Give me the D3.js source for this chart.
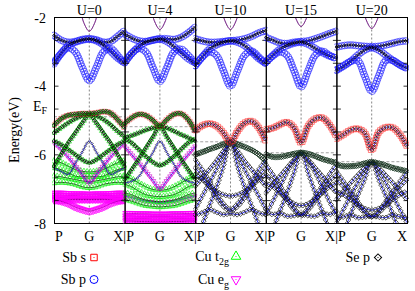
<!DOCTYPE html>
<html>
<head>
<meta charset="utf-8">
<script src="https://cdn.jsdelivr.net/npm/d3@7"></script>
<style>
  body { margin: 0; background: #fff; }
  svg { display: block; }
  text { font-family: 'Liberation Serif', 'Times New Roman', serif; fill: #000; }
</style>
</head>
<body>
<svg id="chart" width="415" height="291"></svg>
<script>
const width = 415, height = 291;
const plotLeft = 54, plotRight = 407, plotTop = 17.5, plotBottom = 223.5;

const panels = ['U=0', 'U=4', 'U=10', 'U=15', 'U=20'];
const fermi = [-4.89, -5.18, -5.62, -5.94, -6.20];
const kPoints = [0, 0.1, 0.2, 0.3, 0.4, 0.5, 0.6, 0.7, 0.8, 0.9, 1];
const yTicks = ['-2', '-4', '-6', '-8'];

// small conduction parabola near G (top of the frame)
const condK = [0.36, 0.42, 0.5, 0.58, 0.64];
const condU0 = [-1.62, -2.14, -2.40, -2.14, -1.62];
const condU4 = [-1.57, -2.09, -2.35, -2.09, -1.57];
const condU10 = [-1.57, -2.09, -2.35, -2.09, -1.57];
const condU15 = [-1.48, -2.00, -2.26, -2.00, -1.48];
const condU20 = [-1.54, -2.06, -2.32, -2.06, -1.54];

// bands: [character, energies at kPoints]
const bandsU0 = [
  ['sbpSe', [-2.52, -2.66, -2.72, -2.70, -2.64, -2.62, -2.65, -2.72, -2.70, -2.55, -2.38]],
  ['sbpSe', [-3.35, -3.05, -2.82, -2.72, -2.66, -2.63, -2.68, -2.80, -2.98, -3.18, -3.32]],
  ['sbp', [-3.30, -3.05, -2.88, -3.00, -3.45, -3.84, -3.45, -3.00, -2.90, -3.10, -3.35]],
  ['eg', [-7.12, -7.12, -7.13, -7.14, -7.14, -7.15, -7.14, -7.14, -7.13, -7.12, -7.12]],
  ['eg', [-7.18, -7.18, -7.19, -7.20, -7.21, -7.21, -7.21, -7.20, -7.19, -7.18, -7.18]],
  ['eg', [-7.25, -7.25, -7.26, -7.27, -7.28, -7.28, -7.28, -7.27, -7.26, -7.25, -7.25]],
  ['eg', [-7.32, -7.32, -7.31, -7.30, -7.30, -7.30, -7.30, -7.30, -7.31, -7.32, -7.32]],
  ['eg', [-7.30, -7.35, -7.42, -7.52, -7.59, -7.64, -7.59, -7.52, -7.42, -7.35, -7.30]],
  ['t2g', [-6.18, -6.23, -6.33, -6.43, -6.48, -6.50, -6.48, -6.43, -6.33, -6.23, -6.18]],
  ['t2g', [-6.38, -6.43, -6.52, -6.62, -6.64, -6.62, -6.64, -6.62, -6.52, -6.43, -6.38]],
  ['t2g', [-6.62, -6.64, -6.68, -6.72, -6.76, -6.78, -6.76, -6.72, -6.68, -6.64, -6.62]],
  ['t2g', [-6.82, -6.80, -6.82, -6.86, -6.93, -6.96, -6.93, -6.86, -6.82, -6.80, -6.82]],
  ['purple', [-5.65, -5.84, -6.06, -6.31, -6.57, -6.82, -6.57, -6.31, -6.06, -5.84, -5.65]],
  ['lam', [-6.38, -6.48, -6.57, -6.25, -5.92, -5.60, -5.92, -6.25, -6.57, -6.48, -6.38]],
  ['cuse', [-5.60, -5.70, -5.84, -5.99, -6.14, -6.23, -6.14, -5.99, -5.84, -5.70, -5.60]],
  ['cuse', [-6.33, -5.99, -5.65, -5.36, -5.07, -4.84, -5.07, -5.36, -5.65, -5.99, -6.33]],
  ['cuse', [-5.36, -5.21, -5.07, -4.95, -4.87, -4.82, -4.87, -4.97, -5.12, -5.31, -5.48]],
  ['topCu', [-5.14, -4.95, -4.85, -4.82, -4.80, -4.80, -4.78, -4.74, -4.78, -4.97, -5.21]]
];

const bandsU4 = [
  ['sbpSe', [-2.48, -2.60, -2.68, -2.70, -2.66, -2.62, -2.62, -2.64, -2.58, -2.45, -2.28]],
  ['sbpSe', [-3.32, -3.05, -2.85, -2.72, -2.66, -2.63, -2.70, -2.85, -3.02, -3.20, -3.32]],
  ['sbp', [-3.30, -3.05, -2.90, -3.00, -3.45, -3.86, -3.45, -3.00, -2.92, -3.10, -3.32]],
  ['eg', [-7.71, -7.71, -7.72, -7.72, -7.73, -7.73, -7.73, -7.72, -7.72, -7.71, -7.71]],
  ['eg', [-7.79, -7.79, -7.80, -7.80, -7.81, -7.81, -7.81, -7.80, -7.80, -7.79, -7.79]],
  ['eg', [-7.86, -7.86, -7.87, -7.87, -7.88, -7.88, -7.88, -7.87, -7.87, -7.86, -7.86]],
  ['eg', [-7.93, -7.93, -7.94, -7.94, -7.95, -7.95, -7.95, -7.94, -7.94, -7.93, -7.93]],
  ['purple', [-7.20, -7.25, -7.30, -7.35, -7.38, -7.40, -7.38, -7.35, -7.30, -7.25, -7.20]],
  ['t2g', [-6.62, -6.70, -6.82, -6.93, -7.01, -7.03, -7.01, -6.93, -6.82, -6.70, -6.62]],
  ['t2g', [-6.86, -6.93, -7.06, -7.16, -7.20, -7.22, -7.20, -7.16, -7.06, -6.93, -6.86]],
  ['t2g', [-7.11, -7.16, -7.25, -7.32, -7.35, -7.37, -7.35, -7.32, -7.25, -7.16, -7.11]],
  ['t2g', [-7.30, -7.35, -7.42, -7.48, -7.50, -7.52, -7.50, -7.48, -7.42, -7.35, -7.30]],
  ['purple', [-5.75, -5.99, -6.23, -6.48, -6.74, -6.99, -6.74, -6.48, -6.23, -5.99, -5.75]],
  ['lam', [-6.82, -6.77, -6.64, -6.28, -5.94, -5.60, -5.94, -6.28, -6.64, -6.77, -6.82]],
  ['cuse', [-5.53, -5.65, -5.84, -6.04, -6.21, -6.31, -6.21, -6.04, -5.84, -5.65, -5.53]],
  ['cuse', [-6.72, -6.43, -6.12, -5.80, -5.48, -5.18, -5.48, -5.80, -6.12, -6.43, -6.72]],
  ['cuse', [-5.50, -5.44, -5.36, -5.28, -5.22, -5.18, -5.22, -5.31, -5.41, -5.50, -5.60]],
  ['topCu', [-5.09, -4.92, -4.82, -4.85, -4.99, -5.16, -4.97, -4.82, -4.80, -4.97, -5.31]]
];

const bandsU10 = [
  ['sbpSe', [-2.62, -2.68, -2.72, -2.72, -2.70, -2.68, -2.66, -2.62, -2.55, -2.45, -2.38]],
  ['sbpSe', [-3.40, -3.15, -2.92, -2.80, -2.72, -2.68, -2.72, -2.82, -3.00, -3.20, -3.33]],
  ['sbp', [-3.40, -3.15, -3.00, -3.10, -3.55, -4.00, -3.55, -3.10, -2.98, -3.15, -3.35]],
  ['sebl', [-8.46, -8.03, -7.49, -6.96, -6.33, -5.63, -6.33, -6.96, -7.49, -8.03, -8.46]],
  ['se', [-7.74, -7.69, -7.59, -7.67, -7.74, -7.71, -7.74, -7.67, -7.59, -7.69, -7.74]],
  ['se', [-6.57, -6.72, -6.91, -7.06, -7.16, -7.20, -7.16, -7.06, -6.91, -6.72, -6.57]],
  ['sebl', [-6.38, -6.62, -6.93, -7.25, -7.51, -7.64, -7.51, -7.25, -6.93, -6.62, -6.38]],
  ['sebl', [-6.14, -6.43, -6.77, -7.11, -7.42, -7.59, -7.42, -7.11, -6.77, -6.43, -6.14]],
  ['sebl', [-7.59, -7.20, -6.82, -6.43, -6.02, -5.63, -6.02, -6.43, -6.82, -7.20, -7.59]],
  ['se', [-6.91, -6.67, -6.43, -6.18, -5.89, -5.63, -5.89, -6.18, -6.43, -6.67, -6.91]],
  ['seDark', [-5.99, -5.92, -5.84, -5.77, -5.69, -5.63, -5.69, -5.77, -5.86, -5.99, -6.18]],
  ['top', [-5.28, -5.15, -5.09, -5.16, -5.36, -5.63, -5.31, -5.07, -5.02, -5.21, -5.60]]
];

const bandsU15 = [
  ['sbpSe', [-2.58, -2.66, -2.74, -2.76, -2.72, -2.70, -2.68, -2.62, -2.55, -2.47, -2.40]],
  ['sbpSe', [-3.30, -3.10, -2.92, -2.82, -2.75, -2.72, -2.78, -2.90, -3.02, -3.12, -3.18]],
  ['sbp', [-3.30, -3.12, -3.00, -3.10, -3.55, -4.02, -3.55, -3.10, -2.98, -3.10, -3.20]],
  ['sebl', [-8.66, -8.17, -7.64, -7.11, -6.52, -5.94, -6.52, -7.11, -7.64, -8.17, -8.66]],
  ['se', [-7.64, -7.74, -7.69, -7.79, -7.77, -7.74, -7.77, -7.79, -7.69, -7.74, -7.64]],
  ['se', [-6.82, -6.93, -7.11, -7.28, -7.42, -7.48, -7.42, -7.28, -7.11, -6.93, -6.82]],
  ['sebl', [-6.57, -6.77, -7.06, -7.35, -7.61, -7.77, -7.61, -7.35, -7.06, -6.77, -6.57]],
  ['sebl', [-6.28, -6.57, -6.89, -7.22, -7.54, -7.74, -7.54, -7.22, -6.89, -6.57, -6.28]],
  ['sebl', [-7.74, -7.35, -6.93, -6.52, -6.18, -5.94, -6.18, -6.52, -6.93, -7.35, -7.74]],
  ['se', [-7.11, -6.86, -6.62, -6.38, -6.14, -5.94, -6.14, -6.38, -6.62, -6.86, -7.11]],
  ['seDark', [-5.99, -6.06, -6.06, -6.02, -5.97, -5.94, -5.97, -6.04, -6.12, -6.18, -6.23]],
  ['top', [-5.26, -5.22, -5.12, -5.05, -5.21, -5.65, -5.16, -4.95, -4.92, -5.12, -5.46]]
];

const bandsU20 = [
  ['sbpSe', [-2.86, -2.82, -2.80, -2.82, -2.84, -2.85, -2.84, -2.80, -2.75, -2.70, -2.68]],
  ['sbpSe', [-3.54, -3.42, -3.28, -3.10, -2.95, -2.88, -2.95, -3.10, -3.25, -3.38, -3.48]],
  ['sbp', [-3.52, -3.40, -3.28, -3.25, -3.70, -4.15, -3.70, -3.25, -3.25, -3.38, -3.48]],
  ['sebl', [-8.76, -8.27, -7.74, -7.20, -6.72, -6.21, -6.72, -7.20, -7.74, -8.27, -8.76]],
  ['se', [-7.83, -7.81, -7.74, -7.83, -7.81, -7.79, -7.81, -7.83, -7.74, -7.81, -7.83]],
  ['se', [-7.06, -7.16, -7.30, -7.45, -7.56, -7.61, -7.56, -7.45, -7.30, -7.16, -7.06]],
  ['sebl', [-6.72, -6.93, -7.20, -7.48, -7.69, -7.81, -7.69, -7.48, -7.20, -6.93, -6.72]],
  ['sebl', [-6.48, -6.77, -7.06, -7.35, -7.64, -7.79, -7.64, -7.35, -7.06, -6.77, -6.48]],
  ['sebl', [-7.98, -7.59, -7.20, -6.82, -6.48, -6.21, -6.48, -6.82, -7.20, -7.59, -7.98]],
  ['se', [-7.30, -7.06, -6.82, -6.60, -6.38, -6.21, -6.38, -6.60, -6.82, -7.06, -7.30]],
  ['seDark', [-6.28, -6.33, -6.33, -6.31, -6.25, -6.21, -6.25, -6.31, -6.38, -6.43, -6.48]],
  ['top', [-5.53, -5.41, -5.28, -5.24, -5.36, -5.86, -5.34, -5.20, -5.21, -5.41, -5.75]]
];

const allBands = [bandsU0, bandsU4, bandsU10, bandsU15, bandsU20];
const allCond = [condU0, condU4, condU10, condU15, condU20];

// marker looks: [shape, colour, size, spacing along the band in px, stroke width]
const styles = {
  sbp:    {line: '#0000ff', marks: [['circle', '#1a1aff', 36, 2.8, 0.6]]},
  sbpSe:  {line: '#000', marks: [['circle', '#1a1aff', 36, 2.8, 0.6], ['diam', '#000', 4, 2.5, 0.7]]},
  top:    {line: '#0000ff', marks: [['square', '#ff3030', 30, 2.8, 0.6], ['diam', '#222', 9, 3.2, 0.6]]},
  topCu:  {line: '#000', marks: [['square', '#e03030', 22, 3.2, 0.5], ['diam', '#111', 10, 2.2, 0.7], ['triangle', '#00b000', 8, 4, 0.5]]},
  cuse:   {line: '#000', marks: [['triangle', '#00dd00', 12, 3.2, 0.6], ['diam', '#111', 7, 2.6, 0.7]]},
  lam:    {line: '#0000ff', marks: [['diam', '#333', 4, 3.5, 0.6]]},
  purple: {line: '#0000ff', marks: [['down', '#cc00cc', 10, 3, 0.6]]},
  t2g:    {line: '#000', marks: [['triangle', '#00ee00', 16, 3.2, 0.6]]},
  eg:     {line: '#000', marks: [['down', '#ff00ff', 22, 1.6, 0.7]]},
  se:     {line: '#0000ff', marks: [['diam', '#1a1a1a', 13, 3.4, 0.7]]},
  sebl:   {line: '#0000ff', marks: [['diam', '#1a1a1a', 12, 4.0, 0.7]]},
  seDark: {line: '#000', marks: [['diam', '#10301a', 18, 2.0, 0.8]]}
};

const shapes = {
  circle: d3.symbolCircle, square: d3.symbolSquare, diam: d3.symbolSquare,
  triangle: d3.symbolTriangle, down: d3.symbolTriangle
};
const rot = {diam: 45, down: 180};

const svg = d3.select('#chart');

const xPanel = d3.scaleBand().domain(panels).range([plotLeft, plotRight]);
const y = d3.scaleLinear().domain([-8, -2]).range([plotBottom, plotTop]);
const bw = xPanel.bandwidth();

const defs = svg.append('defs');

panels.forEach((name, i) => {
  const x0 = xPanel(name);
  const x = d3.scaleLinear().domain([0, 1]).range([x0, x0 + bw]);

  defs.append('clipPath').attr('id', 'clip' + i)
    .append('rect').attr('x', x0 - 2).attr('y', plotTop)
    .attr('width', bw + 4).attr('height', plotBottom - plotTop);

  const g = svg.append('g').attr('clip-path', `url(#clip${i})`);

  // G line and Fermi level
  g.append('line')
    .attr('x1', x(0.5)).attr('x2', x(0.5)).attr('y1', plotTop).attr('y2', plotBottom)
    .attr('stroke', '#666').attr('stroke-width', 0.8).attr('stroke-dasharray', '2,2');
  g.append('line')
    .attr('x1', x0).attr('x2', x0 + bw).attr('y1', y(fermi[i])).attr('y2', y(fermi[i]))
    .attr('stroke', '#888').attr('stroke-width', 0.8).attr('stroke-dasharray', '3,2');

  const line = d3.line()
    .x((e, j) => x(kPoints[j]))
    .y(e => y(e))
    .curve(d3.curveCatmullRom.alpha(0.5));

  allBands[i].forEach(([kind, energies]) => {
    const st = styles[kind];
    const path = g.append('path')
      .attr('d', line(energies))
      .attr('fill', 'none')
      .attr('stroke', st.line)
      .attr('stroke-width', 0.8);
    const node = path.node();
    const len = node.getTotalLength();
    st.marks.forEach(([shape, color, size, step, sw]) => {
      const pts = [];
      for (let s = 0; s <= len; s += step) {
        const p = node.getPointAtLength(s);
        if (p.y > plotTop - 5 && p.y < plotBottom + 5) pts.push({x: p.x, y: p.y});
      }
      const d = d3.symbol(shapes[shape], size)();
      g.append('g').selectAll('path')
        .data(pts)
        .join('path')
          .attr('d', d)
          .attr('transform', p => `translate(${p.x},${p.y})` + (rot[shape] ? ` rotate(${rot[shape]})` : ''))
          .attr('fill', 'none')
          .attr('stroke', color)
          .attr('stroke-width', sw);
    });
  });

  // conduction band minimum near G
  const condLine = d3.line()
    .x((e, j) => x(condK[j]))
    .y(e => y(e))
    .curve(d3.curveCatmullRom.alpha(0.5));
  g.append('path')
    .attr('d', condLine(allCond[i]))
    .attr('fill', 'none')
    .attr('stroke', '#3030c0').attr('stroke-width', 0.9);
  g.append('path')
    .attr('d', condLine(allCond[i]))
    .attr('fill', 'none')
    .attr('stroke', '#e01030').attr('stroke-width', 0.7).attr('stroke-opacity', 0.6);

  // frame and ticks
  svg.append('rect')
    .attr('x', x0 + 0.5).attr('y', plotTop).attr('width', bw).attr('height', plotBottom - plotTop)
    .attr('fill', 'none').attr('stroke', '#000').attr('stroke-width', 1);

  const ticks = d3.range(10).map(t => -2 - t * 2 / 3);
  svg.append('g').selectAll('line')
    .data(ticks.flatMap(v => [[x0 + 0.5, 4, v], [x0 + bw + 0.5, -4, v]]))
    .join('line')
      .attr('x1', d => d[0]).attr('x2', d => d[0] + d[1])
      .attr('y1', d => y(d[2])).attr('y2', d => y(d[2]))
      .attr('stroke', '#000').attr('stroke-width', 0.8);

  // titles and k labels
  svg.append('text')
    .attr('x', x(0.5)).attr('y', 15)
    .attr('text-anchor', 'middle').attr('font-size', 14)
    .text(name);
  svg.append('text')
    .attr('x', x(0.5)).attr('y', 241)
    .attr('text-anchor', 'middle').attr('font-size', 14)
    .text('G');
  if (i === 0) {
    svg.append('text').attr('x', x(0) + 1).attr('y', 241).attr('font-size', 14).text('P');
  }
  const last = i === panels.length - 1;
  svg.append('text')
    .attr('x', last ? x(1) : x(1) - 1)
    .attr('y', 241)
    .attr('text-anchor', last ? 'end' : 'middle')
    .attr('font-size', 14)
    .text(last ? 'X' : 'X|P');
});

// y axis labels
svg.append('g').selectAll('text')
  .data(yTicks)
  .join('text')
    .attr('x', 46).attr('y', d => y(+d) + 5)
    .attr('text-anchor', 'end').attr('font-size', 14)
    .text(d => d);

const ef = svg.append('text').attr('x', 33).attr('y', 111).attr('font-size', 14);
ef.append('tspan').text('E');
ef.append('tspan').attr('font-size', 10).attr('dy', 3).text('F');

svg.append('text')
  .attr('transform', 'translate(19,130) rotate(-90)')
  .attr('text-anchor', 'middle').attr('font-size', 14)
  .text('Energy(eV)');

// legend
const legendItems = [
  {label: ['Sb s'], shape: 'square', color: '#ff0000', tx: 86, mx: 94, y: 262},
  {label: ['Sb p'], shape: 'circle', color: '#0000ff', tx: 86, mx: 94, y: 284},
  {label: ['Cu t', '2g'], shape: 'triangle', color: '#00ff00', tx: 229, mx: 236, y: 261},
  {label: ['Cu e', 'g'], shape: 'down', color: '#ff00ff', tx: 229, mx: 236, y: 284},
  {label: ['Se p'], shape: 'diam', color: '#000', tx: 370, mx: 378, y: 262}
];
const legendSize = {square: 42, circle: 50, triangle: 40, down: 40, diam: 26};

legendItems.forEach(it => {
  const t = svg.append('text')
    .attr('x', it.tx).attr('y', it.y)
    .attr('text-anchor', 'end').attr('font-size', 14);
  t.append('tspan').text(it.label[0]);
  if (it.label[1]) t.append('tspan').attr('font-size', 10).attr('dy', 4).text(it.label[1]);
  const cy = it.y - 4.5;
  svg.append('path')
    .attr('d', d3.symbol(shapes[it.shape], legendSize[it.shape])())
    .attr('transform', `translate(${it.mx},${cy})` + (rot[it.shape] ? ` rotate(${rot[it.shape]})` : ''))
    .attr('fill', 'none').attr('stroke', it.color).attr('stroke-width', 1);
  svg.append('circle').attr('cx', it.mx).attr('cy', cy).attr('r', 0.6).attr('fill', it.color);
});
</script>
</body>
</html>
